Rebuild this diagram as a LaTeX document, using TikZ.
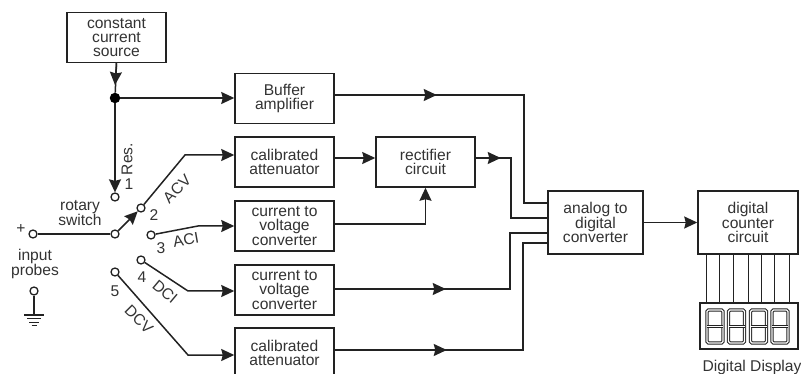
\documentclass[tikz,border=0pt]{standalone}
\usepackage{fontspec}
\setmainfont{Liberation Sans}
\usetikzlibrary{arrows.meta,decorations.markings,calc}
\definecolor{ink}{HTML}{222222}
\definecolor{txt}{HTML}{333333}
\tikzset{
  blk/.style={draw=ink,line width=1.5pt,fill=white,inner sep=0pt,align=center,text=txt,
    font=\fontsize{15.6}{14.2}\selectfont,minimum width=#1,minimum height=50pt},
  blk/.default=99pt,
  term/.style={circle,draw=ink,line width=1.3pt,fill=white,minimum size=8pt,inner sep=0pt},
  wire/.style={draw=ink,line width=1.5pt},
  tip/.style={-{Stealth[length=13pt,width=12pt,inset=1.5pt]}},
  thin wire/.style={draw=ink,line width=1pt},
  lab/.style={text=txt,inner sep=0pt,font=\fontsize{15.6}{14.2}\selectfont,align=center},
  markat/.style={postaction={decorate,decoration={markings,
    mark=at position #1 with {\arrow{Stealth[length=13pt,width=12pt,inset=1.5pt]}}}}},
  seg/.style={draw=ink,line width=1.1pt,double=white,double distance=1.2pt,rounded corners=1.5pt},
}
\begin{document}
\begin{tikzpicture}[x=1pt,y=-1pt]
\useasboundingbox (0,0) rectangle (801,374);
\clip (0,0) rectangle (801,374);
% blocks
\node[blk] (src) at (116.5,37.5) {constant\\current\\source};
\node[blk] (buf) at (284.5,98.5) {Buffer\\amplifier};
\node[blk] (cal1) at (284.5,162) {calibrated\\attenuator};
\node[blk] (cur1) at (284.5,226) {current to\\voltage\\converter};
\node[blk] (cur2) at (284.5,290) {current to\\voltage\\converter};
\node[blk] (cal2) at (284.5,353) {calibrated\\attenuator};
\node[blk] (rect) at (425.5,162) {rectifier\\circuit};
\node[blk=95pt,minimum height=63pt] (adc) at (595.5,222.5) {analog to\\digital\\converter};
\node[blk=100pt,minimum height=63pt] (cnt) at (748,222.5) {digital\\counter\\circuit};
\node[draw=ink,line width=1.6pt,minimum width=98pt,minimum height=46pt,inner sep=0pt] (dsp) at (749,326) {};
% terminals
\node[term] (in) at (33,234) {};
\node[term] (gnd) at (34,291) {};
\node[term] (pole) at (115,234) {};
\node[term] (t1) at (115,197) {};
\node[term] (t2) at (141,208) {};
\node[term] (t3) at (151,235) {};
\node[term] (t4) at (141,260) {};
\node[term] (t5) at (115,272) {};
\node[circle,fill=black,minimum size=10.5pt,inner sep=0pt] (dot) at (115,98) {};
% bend coordinates
\coordinate (b2) at (185,155);
\coordinate (b3) at (198,226);
\coordinate (b4) at (188,291);
\coordinate (b5) at (188,355);
\coordinate (g0) at (34,315);
% connectors
\draw[wire,tip] (src.south) -- (dot |- 0,85);
\draw[wire] (src.south) -- (dot);
\draw[wire,tip] (dot) -- (t1.north);
\draw[wire,tip] (dot) -- (buf.west |- dot);
\draw[wire] (in) -- (pole);
\draw[wire,tip] (pole) -- (t2);
\draw[wire,tip] (t2) -- (b2) -- (cal1.west |- b2);
\draw[wire,tip] (t3) -- (b3) -- (cur1.west |- b3);
\draw[wire,tip] (t4) -- (b4) -- (cur2.west |- b4);
\draw[wire,tip] (t5) -- (b5) -- (cal2.west |- b5);
\draw[wire] (gnd) -- (g0);
\draw[wire] ($(g0)+(-10,0)$) -- ($(g0)+(10,0)$);
\draw[thin wire] ($(g0)+(-7,3.5)$) -- ($(g0)+(7,3.5)$);
\draw[thin wire] ($(g0)+(-5,7)$) -- ($(g0)+(5,7)$);
\draw[thin wire] ($(g0)+(-2.5,10.5)$) -- ($(g0)+(2.5,10.5)$);
\draw[wire,tip] (cal1.east |- 0,158) -- (rect.west |- 0,158);
\draw[wire,tip] (cur1.east |- 0,224) -| (rect.south);
\draw[wire,markat=102pt] (buf.east |- 0,95) -- (524,95) |- (adc.west |- 0,203);
\draw[wire,markat=25pt] (rect.east |- 0,158) -- (511,158) |- (adc.west |- 0,218);
\draw[wire,markat=111pt] (cur2.east |- 0,289) -- (510,289) |- (adc.west |- 0,233);
\draw[wire,markat=112pt] (cal2.east |- 0,350) -- (523,350) |- (adc.west |- 0,243);
\draw[wire,tip] (adc.east) -- (cnt.west);
\foreach \x in {706,719,733,748,761,774,789}
  \draw[thin wire] (\x,254) -- (\x,303);
% digits
\foreach \x in {707,728.5,750.5,772}{
  \draw[seg] (\x,310) rectangle ++(16,33);
  \draw[draw=ink,line width=1.1pt,double=white,double distance=1.2pt] (\x,326.5) -- ++(16,0);
}
% labels
\node[lab] (lrs) at (80,213) {rotary\\switch};
\node[lab] (lplus) at (21,229) {+};
\node[lab] (lin) at (35,264) {input\\probes};
\node[lab] (l1) at (129,184) {1};
\node[lab] (l2) at (154,215) {2};
\node[lab] (l3) at (161,248) {3};
\node[lab] (l4) at (142,277) {4};
\node[lab] (l5) at (115,291) {5};
\node[lab,rotate=90] (lres) at (127,159) {Res.};
\node[lab,rotate=45] (lacv) at (177,189) {ACV};
\node[lab,rotate=10] (laci) at (186,240) {ACI};
\node[lab,rotate=-40] (ldci) at (165,292) {DCI};
\node[lab,rotate=-45] (ldcv) at (139,319) {DCV};
\node[lab,font=\fontsize{15.6}{15}\selectfont] (ldd) at (752,367) {Digital Display};
\end{tikzpicture}
\end{document}
